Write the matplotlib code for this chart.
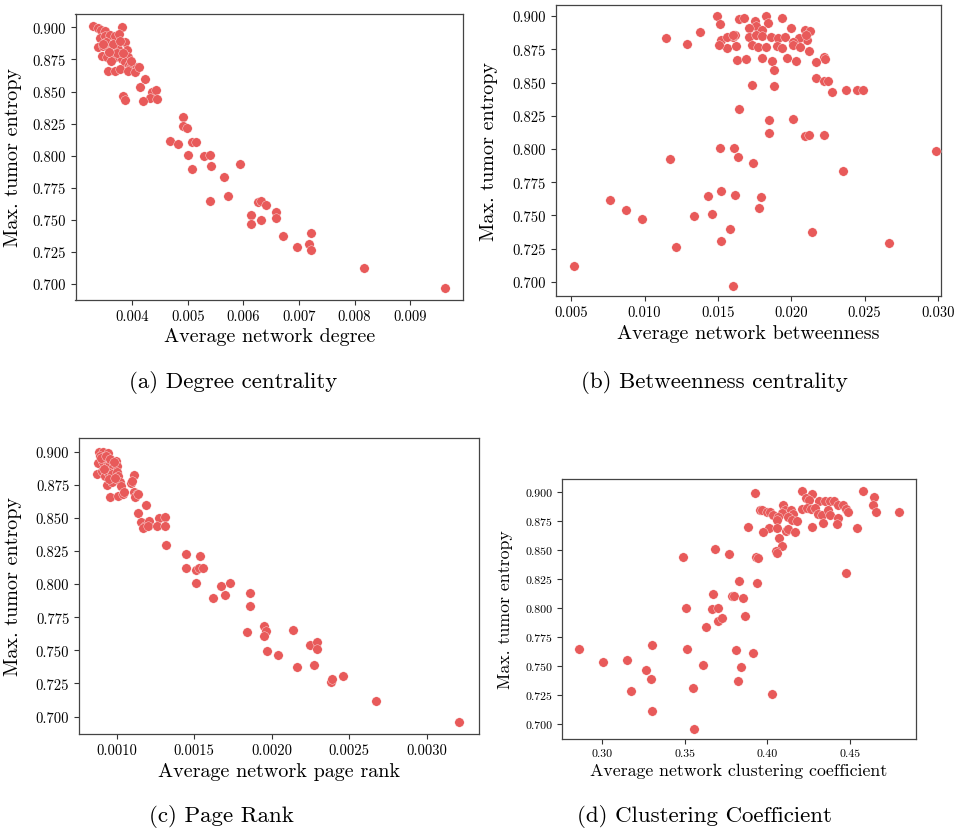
import matplotlib
matplotlib.use("Agg")
import matplotlib.pyplot as plt

plt.rcParams['font.family'] = ['cmr10', 'DejaVu Serif']
plt.rcParams['mathtext.fontset'] = 'cm'
plt.rcParams['axes.formatter.use_mathtext'] = True

COLOR = '#E85A5A'

# (a) Degree centrality
deg_x = [0.0033, 0.00338, 0.00344, 0.00351, 0.00382, 0.00342, 0.00351, 0.0036, 0.00369, 0.00376,
         0.00387, 0.00339, 0.00348, 0.00357, 0.00366, 0.00374, 0.0039, 0.00345, 0.00354, 0.00363,
         0.00369, 0.00381, 0.00393, 0.00362, 0.00387, 0.00394, 0.00396, 0.00408, 0.00357, 0.00369,
         0.00378, 0.00393, 0.00405, 0.00412, 0.00423, 0.00414, 0.00435, 0.00442, 0.00432, 0.00444,
         0.0042, 0.00384, 0.00387, 0.00492, 0.00492, 0.00498, 0.00468, 0.00483, 0.00507, 0.00514,
         0.00501, 0.0053, 0.0054, 0.00507, 0.00541, 0.00593, 0.00566, 0.0054, 0.00573, 0.00626,
         0.00632, 0.0064, 0.00614, 0.00613, 0.00631, 0.00658, 0.00658, 0.00672, 0.00696, 0.00721,
         0.00718, 0.00721, 0.00817, 0.00963,
         0.00352, 0.00365, 0.00372, 0.00358, 0.00347, 0.00378, 0.00384, 0.00398]
deg_y = [0.901, 0.8992, 0.8981, 0.8974, 0.900, 0.8914, 0.893, 0.894, 0.8935, 0.8948,
         0.8883, 0.8844, 0.8857, 0.8836, 0.8852, 0.8831, 0.8826, 0.8779, 0.8766, 0.8792,
         0.8766, 0.8753, 0.8766, 0.874, 0.8727, 0.8706, 0.8681, 0.8688, 0.8662, 0.8662,
         0.8675, 0.8662, 0.8654, 0.8688, 0.8597, 0.8533, 0.8498, 0.8512, 0.8447, 0.8442,
         0.8424, 0.8463, 0.8436, 0.8299, 0.8234, 0.8213, 0.8117, 0.8091, 0.8104, 0.8109,
         0.8005, 0.7995, 0.8008, 0.7897, 0.7922, 0.7935, 0.7837, 0.7645, 0.7689, 0.7637,
         0.765, 0.7616, 0.7538, 0.747, 0.7499, 0.7559, 0.7512, 0.7372, 0.7291, 0.7398,
         0.7312, 0.7265, 0.7123, 0.6967,
         0.8885, 0.8870, 0.8800, 0.8810, 0.8870, 0.8890, 0.8800, 0.8740]

# (b) Betweenness centrality
btw_x = [0.01146, 0.01289, 0.01378, 0.01492, 0.01514, 0.01519, 0.01564, 0.01605, 0.01616, 0.01643,
         0.01628, 0.01643, 0.01514, 0.0161, 0.01639, 0.01174, 0.01737, 0.02354, 0.02989, 0.00765,
         0.00872, 0.00985, 0.0052, 0.01214, 0.01339, 0.01432, 0.0146, 0.01519, 0.01618, 0.01582,
         0.01519, 0.01605, 0.01782, 0.01796, 0.02139, 0.02663,
         0.0168, 0.0175, 0.0183, 0.0194, 0.0184, 0.0176,
         0.0171, 0.018, 0.0200, 0.0209, 0.0213, 0.0211,
         0.0156, 0.016, 0.0171, 0.0176, 0.018, 0.0186, 0.0191, 0.0196, 0.0205, 0.021, 0.0201,
         0.0151, 0.0162, 0.0173, 0.0177, 0.0183, 0.019, 0.0194, 0.0201, 0.0206, 0.0212, 0.0222, 0.0223,
         0.0169, 0.018, 0.0187, 0.0197, 0.0203, 0.0217,
         0.0188, 0.0217, 0.0222, 0.0225, 0.0228, 0.0173, 0.0188, 0.0237, 0.0245, 0.0249,
         0.0201, 0.0185, 0.0185, 0.0209, 0.0212, 0.0222]
btw_y = [0.8837, 0.8786, 0.8882, 0.900, 0.8942, 0.8816, 0.8761, 0.8842, 0.8854, 0.898,
         0.8673, 0.8302, 0.8006, 0.8006, 0.7943, 0.7925, 0.7895, 0.7835, 0.7988, 0.7617,
         0.7539, 0.7471, 0.7122, 0.7265, 0.7499, 0.7645, 0.7511, 0.7687, 0.7652, 0.7396,
         0.731, 0.6969, 0.7556, 0.7637, 0.7373, 0.7291,
         0.8985, 0.8965, 0.900, 0.8985, 0.8945, 0.8925,
         0.891, 0.8895, 0.891, 0.8895, 0.8890, 0.882,
         0.8845, 0.8855, 0.8845, 0.8855, 0.885, 0.884, 0.8835, 0.884, 0.8835, 0.886, 0.8805,
         0.878, 0.8775, 0.878, 0.8765, 0.877, 0.8775, 0.876, 0.878, 0.8765, 0.8735, 0.8695, 0.8675,
         0.8675, 0.8685, 0.8665, 0.8685, 0.8665, 0.8655,
         0.8595, 0.8535, 0.851, 0.8515, 0.843, 0.848, 0.847, 0.8445, 0.8445, 0.8445,
         0.8225, 0.8215, 0.812, 0.8095, 0.8105, 0.8105]

# (c) Page rank
pr_x = [0.000886, 0.000914, 0.000946, 0.000892, 0.000995, 0.000881, 0.000914, 0.000935, 0.000957, 0.000978,
        0.001, 0.00087, 0.000903, 0.000925, 0.000946, 0.000968, 0.001, 0.00101, 0.00111, 0.000935,
        0.000968, 0.00102, 0.00103, 0.00109, 0.0011, 0.000957, 0.00101, 0.00104, 0.00105, 0.00111,
        0.00113, 0.00112, 0.00114, 0.00119, 0.00114, 0.00116, 0.00118, 0.00117, 0.00121, 0.0012,
        0.00127, 0.00131, 0.00126, 0.00131, 0.00132, 0.00145, 0.00154, 0.00145, 0.00151, 0.00153,
        0.00156, 0.00151, 0.00167, 0.00173, 0.0017, 0.00162, 0.00186, 0.00186, 0.00195, 0.00196,
        0.00195, 0.00184, 0.00197, 0.00204, 0.00214, 0.00216, 0.00225, 0.00229, 0.00229, 0.00227,
        0.00238, 0.00239, 0.00246, 0.00267, 0.00321,
        0.00090, 0.00093, 0.00096, 0.00098, 0.00092, 0.00095, 0.00099]
pr_y = [0.900, 0.900, 0.899, 0.897, 0.8932, 0.8911, 0.892, 0.8894, 0.8907, 0.8882,
        0.8894, 0.8832, 0.8856, 0.8819, 0.8844, 0.8832, 0.8844, 0.8819, 0.8824, 0.875,
        0.8769, 0.8769, 0.8743, 0.8764, 0.8781, 0.866, 0.8668, 0.868, 0.8693, 0.8698,
        0.868, 0.8656, 0.868, 0.8597, 0.8537, 0.8471, 0.8441, 0.8421, 0.8479, 0.8441,
        0.8497, 0.8509, 0.8436, 0.8441, 0.8297, 0.8227, 0.8212, 0.8118, 0.8107, 0.8119,
        0.8119, 0.8006, 0.7988, 0.8006, 0.792, 0.7895, 0.7935, 0.7835, 0.7684, 0.7642,
        0.7608, 0.7637, 0.7497, 0.7467, 0.7651, 0.7372, 0.7537, 0.7562, 0.7507, 0.7386,
        0.7257, 0.7284, 0.7303, 0.7115, 0.696,
        0.8955, 0.8965, 0.8945, 0.8925, 0.8870, 0.8790, 0.8800]

# (d) Clustering coefficient
cc_x = [0.3926, 0.3956, 0.3886, 0.3684, 0.3769, 0.3493, 0.3932, 0.3946, 0.3829, 0.394,
        0.3672, 0.3785, 0.3799, 0.3853, 0.3507, 0.3664, 0.3704, 0.3704, 0.3725, 0.3867,
        0.3632, 0.2861, 0.3006, 0.3151, 0.3306, 0.3513, 0.3266, 0.3298, 0.3177, 0.3306,
        0.3553, 0.3557, 0.3614, 0.3809, 0.3912, 0.384, 0.3825, 0.4029,
        0.4208, 0.4268, 0.4234, 0.4254, 0.4313, 0.4349, 0.4379, 0.4403, 0.4429, 0.4459,
        0.4476, 0.449, 0.458, 0.4646, 0.464, 0.4657, 0.4794, 0.3966, 0.3997, 0.4017,
        0.4037, 0.4097, 0.4107, 0.4087, 0.4067, 0.4057, 0.4142, 0.4154, 0.4127, 0.4148,
        0.4181, 0.4208, 0.4238, 0.4262, 0.4288, 0.4308, 0.4329, 0.4369, 0.4379, 0.4425,
        0.4339, 0.4423, 0.4012, 0.3972, 0.4061, 0.4112, 0.4127, 0.4168, 0.4268, 0.4544,
        0.4071, 0.4089, 0.4053, 0.4057, 0.4476]
cc_y = [0.8994, 0.8845, 0.8696, 0.8509, 0.8466, 0.844, 0.8443, 0.8432, 0.8231, 0.8214,
        0.8119, 0.8102, 0.8102, 0.8088, 0.8004, 0.799, 0.8004, 0.7891, 0.7914, 0.7934,
        0.7835, 0.7646, 0.7537, 0.7557, 0.7686, 0.7652, 0.7465, 0.7391, 0.7284, 0.7115,
        0.731, 0.6962, 0.7508, 0.7638, 0.7616, 0.7498, 0.7372, 0.7263,
        0.9011, 0.8983, 0.8946, 0.8931, 0.8925, 0.892, 0.892, 0.892, 0.8886, 0.8886,
        0.8858, 0.8829, 0.9006, 0.8954, 0.8888, 0.883, 0.8825, 0.8848, 0.883, 0.8825,
        0.8802, 0.8886, 0.8849, 0.882, 0.8786, 0.8757, 0.8849, 0.8814, 0.8786, 0.8757,
        0.8751, 0.8857, 0.8863, 0.8857, 0.8866, 0.8807, 0.8798, 0.8841, 0.8798, 0.8778,
        0.8733, 0.8721, 0.869, 0.8658, 0.8687, 0.8666, 0.8681, 0.8658, 0.8696, 0.8687,
        0.8601, 0.8537, 0.8494, 0.8474, 0.83]

W, H = 956, 829
fig = plt.figure(figsize=(W / 100, H / 100), dpi=100)


def add_ax(x0, y0, x1, y1):
    return fig.add_axes([x0 / W, 1 - y1 / H, (x1 - x0) / W, (y1 - y0) / H])


panels = [
    dict(box=(75.5, 15, 463, 300.5), x=deg_x, y=deg_y, xlim=(0.00298, 0.00995), ylim=(0.688, 0.9104),
         xticks=[0.004, 0.005, 0.006, 0.007, 0.008, 0.009], xfmt='%.3f',
         xlabel='Average network degree', caption='(a) Degree centrality', cap=(233, 382),
         tfs=10.5, lfs=14.5, ylx=22),
    dict(box=(555.6, 6, 941, 297), x=btw_x, y=btw_y, xlim=(0.00394, 0.0302), ylim=(0.6894, 0.9083),
         xticks=[0.005, 0.010, 0.015, 0.020, 0.025, 0.030], xfmt='%.3f',
         xlabel='Average network betweenness', caption='(b) Betweenness centrality', cap=(714, 382),
         tfs=10.5, lfs=14.5, ylx=498),
    dict(box=(79, 439, 479, 735), x=pr_x, y=pr_y, xlim=(0.000757, 0.003337), ylim=(0.6868, 0.9103),
         xticks=[0.0010, 0.0015, 0.0020, 0.0025, 0.0030], xfmt='%.4f',
         xlabel='Average network page rank', caption='(c) Page Rank', cap=(221, 817),
         tfs=10.5, lfs=14.5, ylx=22),
    dict(box=(562, 480, 916, 740), x=cc_x, y=cc_y, xlim=(0.276, 0.4898), ylim=(0.6874, 0.9112),
         xticks=[0.30, 0.35, 0.40, 0.45], xfmt='%.2f',
         xlabel='Average network clustering coefficient', caption='(d) Clustering Coefficient', cap=(704, 817),
         tfs=8.5, lfs=12.8, ylx=513),
]

yticks = [0.700, 0.725, 0.750, 0.775, 0.800, 0.825, 0.850, 0.875, 0.900]

for p in panels:
    ax = add_ax(*p['box'])
    ax.scatter(p['x'], p['y'], s=46, color=COLOR, edgecolor='white', linewidth=0.25, zorder=3)
    ax.set_xlim(*p['xlim'])
    ax.set_ylim(*p['ylim'])
    ax.set_xticks(p['xticks'])
    ax.set_xticklabels([p['xfmt'] % v for v in p['xticks']])
    ax.set_yticks(yticks)
    ax.set_yticklabels(['%.3f' % v for v in yticks])
    ax.tick_params(labelsize=p['tfs'], length=3.5, width=0.8, color='#333333')
    for s in ax.spines.values():
        s.set_color('#444444')
        s.set_linewidth(0.9)
    ax.set_xlabel(p['xlabel'], fontsize=p['lfs'], labelpad=3)
    ax.set_ylabel('Max. tumor entropy', fontsize=p['lfs'])
    x0, y0, x1, y1 = p['box']
    ax.yaxis.set_label_coords((p['ylx'] - x0) / (x1 - x0), 0.5)
    fig.text(p['cap'][0] / W, 1 - p['cap'][1] / H, p['caption'], fontsize=16.5,
             ha='center', va='center')

fig.savefig('out.png', dpi=100)
